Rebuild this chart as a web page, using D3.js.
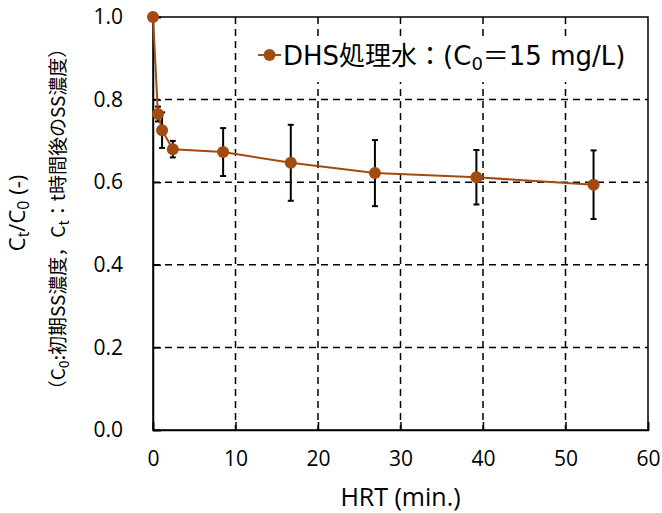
<!DOCTYPE html>
<html>
<head>
<meta charset="utf-8">
<script src="https://cdn.jsdelivr.net/npm/d3@7"></script>
<style>
  body { margin: 0; background: #fff; }
  svg { display: block; }
</style>
</head>
<body>
<div id="chart"></div>
<script>
// HRT (min.) and Ct/C0
const hrt = [0, 0.6, 1.1, 2.4, 8.5, 16.7, 26.9, 39.2, 53.4];
const ratio = [1.0, 0.765, 0.726, 0.680, 0.673, 0.647, 0.622, 0.612, 0.594];
const errs = [0, 0.018, 0.043, 0.02, 0.058, 0.092, 0.08, 0.066, 0.083];
const xTicks = [0, 10, 20, 30, 40, 50, 60];
const yTicks = [0.0, 0.2, 0.4, 0.6, 0.8, 1.0];

const color = "#a24a10";
const W = 662, H = 513;
const margin = { top: 17, right: 14, bottom: 83, left: 153 },
  width = W - margin.left - margin.right,
  height = H - margin.top - margin.bottom;

const svg = d3.select("#chart").append("svg")
  .attr("width", W).attr("height", H);
const g = svg.append("g")
  .attr("transform", "translate(" + margin.left + "," + margin.top + ")");

const x = d3.scaleLinear().domain([0, 60]).range([0, width]);
const y = d3.scaleLinear().domain([0, 1]).range([height, 0]);

// grid
g.append("g").selectAll("line").data(yTicks.filter(d => d > 0 && d < 1)).enter()
  .append("line")
  .attr("x1", 0).attr("x2", width)
  .attr("y1", d => y(d)).attr("y2", d => y(d))
  .attr("stroke", "#000").attr("stroke-width", 1.5).attr("stroke-dasharray", "7,5");
g.append("g").selectAll("line").data(xTicks.filter(d => d > 0 && d < 60)).enter()
  .append("line")
  .attr("x1", d => x(d)).attr("x2", d => x(d))
  .attr("y1", 0).attr("y2", height)
  .attr("stroke", "#000").attr("stroke-width", 1.5).attr("stroke-dasharray", "7,5");

// frame
g.append("rect").attr("width", width).attr("height", height)
  .attr("fill", "none").attr("stroke", "#000").attr("stroke-width", 1.5);

// axes
const xAxis = g.append("g").attr("transform", "translate(0," + height + ")")
  .call(d3.axisBottom(x).tickValues(xTicks).tickSize(-8).tickPadding(21).tickFormat(d3.format("d")));
const yAxis = g.append("g")
  .call(d3.axisLeft(y).tickValues(yTicks).tickSize(-8).tickPadding(30).tickFormat(d3.format(".1f")));
[xAxis, yAxis].forEach(a => {
  a.select(".domain").attr("stroke-width", 1.5);
  a.selectAll(".tick line").attr("stroke-width", 1.5);
  a.selectAll("text").attr("font-family", "'Open Sans', sans-serif").attr("font-size", 21).attr("fill", "#000");
});

// legend box
const leg = svg.append("g");
leg.append("rect").attr("x", 242).attr("y", 37).attr("width", 398).attr("height", 45).attr("fill", "#fff");

// error bars
const data = hrt.map((h, i) => ({ h: h, v: ratio[i], e: errs[i] }));
const eb = g.append("g");
data.filter(d => d.e > 0).forEach(d => {
  eb.append("line").attr("x1", x(d.h)).attr("x2", x(d.h))
    .attr("y1", y(d.v + d.e)).attr("y2", y(d.v - d.e))
    .attr("stroke", "#000").attr("stroke-width", 2);
  [d.v + d.e, d.v - d.e].forEach(v => {
    eb.append("line").attr("x1", x(d.h) - 3).attr("x2", x(d.h) + 3)
      .attr("y1", y(v)).attr("y2", y(v))
      .attr("stroke", "#000").attr("stroke-width", 2);
  });
});

// line + markers
g.append("path").datum(data)
  .attr("fill", "none").attr("stroke", color).attr("stroke-width", 2)
  .attr("d", d3.line().x(d => x(d.h)).y(d => y(d.v)));
g.append("g").selectAll("circle").data(data).enter()
  .append("circle")
  .attr("cx", d => x(d.h)).attr("cy", d => y(d.v)).attr("r", 6)
  .attr("fill", color);

// legend
leg.append("line").attr("x1", 258).attr("x2", 281).attr("y1", 55).attr("y2", 55)
  .attr("stroke", color).attr("stroke-width", 2);
leg.append("circle").attr("cx", 269.5).attr("cy", 55).attr("r", 6).attr("fill", color);
const lt = leg.append("text").attr("x", 283).attr("y", 65)
  .attr("font-family", "'DejaVu Sans', 'Noto Sans CJK JP', sans-serif").attr("font-size", 26).attr("fill", "#000");
lt.append("tspan").text("DHS処理水：(C");
lt.append("tspan").attr("baseline-shift", "-25%").attr("font-size", 18).text("0");
lt.append("tspan").text("＝15 mg/L)");

// x title
svg.append("text").attr("x", margin.left + width / 2).attr("y", 506)
  .attr("text-anchor", "middle").attr("font-family", "'Open Sans', sans-serif").attr("font-size", 25)
  .text("HRT (min.)");

// y titles
const yt1 = svg.append("text").attr("transform", "translate(25,213) rotate(-90)")
  .attr("text-anchor", "middle").attr("font-family", "'Open Sans', sans-serif").attr("font-size", 22);
yt1.append("tspan").text("C");
yt1.append("tspan").attr("baseline-shift", "-25%").attr("font-size", 16).text("t");
yt1.append("tspan").text("/C");
yt1.append("tspan").attr("baseline-shift", "-25%").attr("font-size", 16).text("0");
yt1.append("tspan").text(" (-)");

const yt2 = svg.append("text").attr("transform", "translate(65,219) rotate(-90)")
  .attr("text-anchor", "middle").attr("font-family", "'Noto Sans CJK JP', sans-serif").attr("font-size", 19);
yt2.append("tspan").text("（C");
yt2.append("tspan").attr("baseline-shift", "-25%").attr("font-size", 14).text("0");
yt2.append("tspan").text(":初期SS濃度，C");
yt2.append("tspan").attr("baseline-shift", "-25%").attr("font-size", 14).text("t");
yt2.append("tspan").text("：t時間後のSS濃度）");
</script>
</body>
</html>
